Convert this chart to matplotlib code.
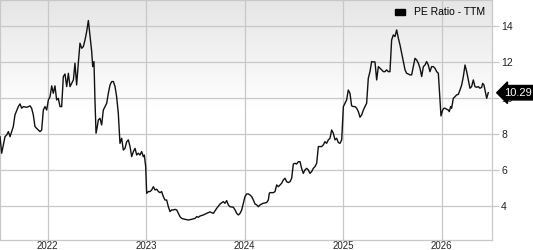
import numpy as np
import matplotlib
matplotlib.use("Agg")
import matplotlib.pyplot as plt
from matplotlib.patches import Patch

# PE ratio (TTM), x in decimal years
years = [2021.516, 2021.533, 2021.567, 2021.584, 2021.601, 2021.618, 2021.634, 2021.651,
         2021.668, 2021.702, 2021.719, 2021.736, 2021.753, 2021.787, 2021.821, 2021.837,
         2021.854, 2021.871, 2021.888, 2021.905, 2021.922, 2021.939, 2021.956, 2021.973,
         2021.990, 2022.007, 2022.024, 2022.041, 2022.057, 2022.074, 2022.091, 2022.108,
         2022.125, 2022.142, 2022.159, 2022.176, 2022.193, 2022.210, 2022.227, 2022.244,
         2022.261, 2022.277, 2022.294, 2022.311, 2022.328, 2022.345, 2022.362, 2022.379,
         2022.396, 2022.413, 2022.430, 2022.447, 2022.457, 2022.470, 2022.480, 2022.491,
         2022.504, 2022.514, 2022.531, 2022.548, 2022.565, 2022.582, 2022.599, 2022.616,
         2022.633, 2022.650, 2022.667, 2022.684, 2022.700, 2022.717, 2022.734, 2022.751,
         2022.768, 2022.785, 2022.802, 2022.819, 2022.836, 2022.853, 2022.870, 2022.887,
         2022.904, 2022.920, 2022.937, 2022.954, 2022.971, 2022.981, 2022.995, 2023.005,
         2023.022, 2023.039, 2023.056, 2023.073, 2023.090, 2023.107, 2023.124, 2023.140,
         2023.157, 2023.174, 2023.191, 2023.208, 2023.225, 2023.242, 2023.259, 2023.276,
         2023.293, 2023.310, 2023.327, 2023.343, 2023.360, 2023.394, 2023.428, 2023.462,
         2023.496, 2023.513, 2023.530, 2023.546, 2023.580, 2023.614, 2023.648, 2023.682,
         2023.716, 2023.750, 2023.783, 2023.800, 2023.817, 2023.834, 2023.851, 2023.885,
         2023.902, 2023.919, 2023.936, 2023.953, 2023.970, 2023.986, 2024.003, 2024.020,
         2024.037, 2024.054, 2024.071, 2024.088, 2024.105, 2024.122, 2024.139, 2024.156,
         2024.173, 2024.189, 2024.223, 2024.240, 2024.250,
         2024.257, 2024.291, 2024.308, 2024.325, 2024.342, 2024.359, 2024.375, 2024.392,
         2024.409, 2024.426, 2024.443, 2024.460, 2024.477, 2024.494, 2024.511, 2024.528,
         2024.545, 2024.562, 2024.578, 2024.595, 2024.612, 2024.629, 2024.646, 2024.663,
         2024.680, 2024.697, 2024.714, 2024.731, 2024.748, 2024.765, 2024.782, 2024.798,
         2024.815, 2024.832, 2024.849, 2024.866, 2024.883, 2024.900, 2024.917, 2024.934,
         2024.951, 2024.968, 2024.985, 2025.002, 2025.018, 2025.035, 2025.052, 2025.069,
         2025.086, 2025.103, 2025.120, 2025.137, 2025.154, 2025.171, 2025.188, 2025.205,
         2025.221, 2025.238, 2025.255, 2025.272, 2025.289, 2025.306, 2025.323, 2025.340,
         2025.357, 2025.374, 2025.391, 2025.408, 2025.424, 2025.441, 2025.458, 2025.475,
         2025.492, 2025.509, 2025.526, 2025.543, 2025.560, 2025.577, 2025.594, 2025.611,
         2025.628, 2025.644, 2025.661, 2025.678, 2025.695, 2025.712, 2025.729, 2025.746,
         2025.763, 2025.780, 2025.797, 2025.814, 2025.831, 2025.847, 2025.864, 2025.881,
         2025.898, 2025.915, 2025.932, 2025.949, 2025.966, 2025.983, 2025.993, 2026.010,
         2026.023, 2026.034, 2026.051, 2026.067, 2026.077, 2026.091, 2026.101, 2026.118,
         2026.135, 2026.152, 2026.169, 2026.186, 2026.203, 2026.220, 2026.237, 2026.254,
         2026.271, 2026.287, 2026.304, 2026.321, 2026.338, 2026.355, 2026.372, 2026.389,
         2026.406, 2026.416, 2026.429, 2026.440, 2026.457, 2026.473]
pe = [7.85, 6.93, 7.85, 7.94, 8.13, 7.85, 8.13, 8.41,
      9.06, 9.52, 9.67, 9.43, 9.52, 9.48, 9.56, 9.43,
      9.06, 8.41, 8.31, 8.22, 8.13, 8.22, 9.33, 9.52,
      9.33, 9.89, 10.07, 10.67, 10.26, 10.67, 9.89, 9.98,
      9.52, 9.52, 11.19, 11.33, 10.63, 11.37, 10.63, 10.81,
      11.00, 11.93, 10.72, 11.93, 13.04, 12.76, 12.85, 13.22,
      13.69, 14.30, 13.41, 12.57, 11.74, 12.02, 9.89, 8.04,
      8.41, 8.78, 8.87, 8.50, 9.33, 9.52, 9.70, 10.26,
      10.72, 10.91, 10.91, 10.63, 10.07, 9.15, 7.48, 7.76,
      7.11, 7.20, 7.57, 7.67, 7.30, 6.74, 7.02, 7.20,
      6.83, 6.93, 6.83, 7.02, 6.74, 6.83, 6.19, 4.70,
      4.80, 4.80, 4.89, 5.07, 4.89, 4.93, 4.80, 4.74,
      4.80, 4.52, 4.33, 4.33, 3.96, 3.69, 3.78, 3.78,
      3.81, 3.78, 3.59, 3.41, 3.31, 3.26, 3.22, 3.26,
      3.31, 3.41, 3.37, 3.44, 3.50, 3.59, 3.67, 3.59,
      3.87, 4.11, 4.24, 4.15, 4.30, 4.06, 3.96, 3.93,
      3.78, 3.59, 3.50, 3.59, 3.78, 4.15, 4.52, 4.67,
      4.67, 4.61, 4.52, 4.33, 4.11, 4.06, 3.96, 4.06,
      4.11, 4.15, 4.19, 4.33, 4.70,
      4.74, 4.74, 4.80, 5.17, 5.07, 5.17, 5.26, 5.44,
      5.54, 5.35, 5.30, 5.35, 5.54, 6.33, 6.37, 6.33,
      6.46, 6.46, 6.09, 5.81, 6.00, 6.09, 6.00, 5.81,
      5.91, 6.09, 6.19, 6.37, 7.30, 7.30, 7.30, 7.39,
      7.57, 7.48, 7.67, 7.76, 8.22, 8.04, 7.67, 7.76,
      7.52, 7.48, 7.67, 9.52, 9.70, 9.89, 10.44, 10.26,
      9.56, 9.52, 9.52, 9.43, 9.24, 8.93, 9.06, 9.33,
      9.52, 9.70, 11.09, 11.46, 12.02, 12.00, 12.00, 11.00,
      11.74, 11.65, 11.56, 11.46, 11.46, 11.56, 11.46, 11.46,
      13.22, 13.50, 13.41, 13.78, 13.32, 12.94, 12.48, 12.02,
      11.56, 11.37, 11.33, 11.28, 11.28, 11.74, 12.20, 12.11,
      11.93, 11.65, 11.19, 11.74, 11.83, 12.02, 11.83, 11.46,
      11.74, 11.74, 11.65, 11.46, 11.37, 9.89, 9.00,
      9.33, 9.43, 9.43, 9.37, 9.33, 9.24, 9.52, 9.43,
      9.98, 10.07, 10.17, 10.20, 10.44, 10.72, 11.19, 11.83,
      11.46, 11.00, 10.54, 10.63, 11.00, 10.63, 10.59, 10.63,
      10.54, 10.59, 10.81, 10.72, 10.44, 9.98, 10.29]

x_ticks = [2022, 2023, 2024, 2025, 2026]
y_ticks = [4, 6, 8, 10, 12, 14]
last_label = "10.29"

plt.rcParams['font.family'] = ['Liberation Sans', 'DejaVu Sans']

fig = plt.figure(figsize=(5.33, 2.5), dpi=100)
ax = fig.add_axes([0.0, 0.04, 0.9231, 0.96])

# grey-to-white gradient background
grad = np.clip(np.linspace(0, 1, 256) * 2.2, 0, 1)
top_c = np.array([0.90, 0.90, 0.90])
cols = top_c[None, None, :] + (1 - top_c)[None, None, :] * grad[:, None, None]
ax.imshow(cols, extent=[0, 1, 0, 1], transform=ax.transAxes, aspect='auto',
          zorder=0, origin='upper')

ax.plot(years, pe, color='#111111', lw=1.0, zorder=3)

ax.set_xlim(2021.516, 2026.511)
ax.set_ylim(2.11, 15.44)
ax.set_xticks(x_ticks)
ax.set_xticklabels([str(t) for t in x_ticks])
ax.set_yticks(y_ticks)
ax.yaxis.tick_right()
ax.grid(True, color='#c8c8c8', lw=0.9, zorder=1)
ax.set_axisbelow(True)
for s in ax.spines.values():
    s.set_color('#c8c8c8')
    s.set_linewidth(0.9)
ax.tick_params(axis='y', direction='out', length=5, width=0.9, color='#c8c8c8',
               labelsize=7.5, labelcolor='#222222', pad=1.5)
ax.tick_params(axis='x', length=0, labelsize=7, labelcolor='#222222', pad=0.5)

# last value marker
ax.annotate(last_label, xy=(1.0, pe[-1]), xycoords=('axes fraction', 'data'),
            xytext=(9, 0), textcoords='offset points', ha='left', va='center',
            color='white', fontsize=8,
            bbox=dict(boxstyle='larrow,pad=0.2', fc='black', ec='black'),
            annotation_clip=False, zorder=5)

leg = ax.legend(handles=[Patch(color='black', label='PE Ratio - TTM')],
                loc='upper right', frameon=False, fontsize=7.5,
                handlelength=1.0, handleheight=0.5, borderaxespad=0.3)

fig.savefig('out.png', dpi=100)
